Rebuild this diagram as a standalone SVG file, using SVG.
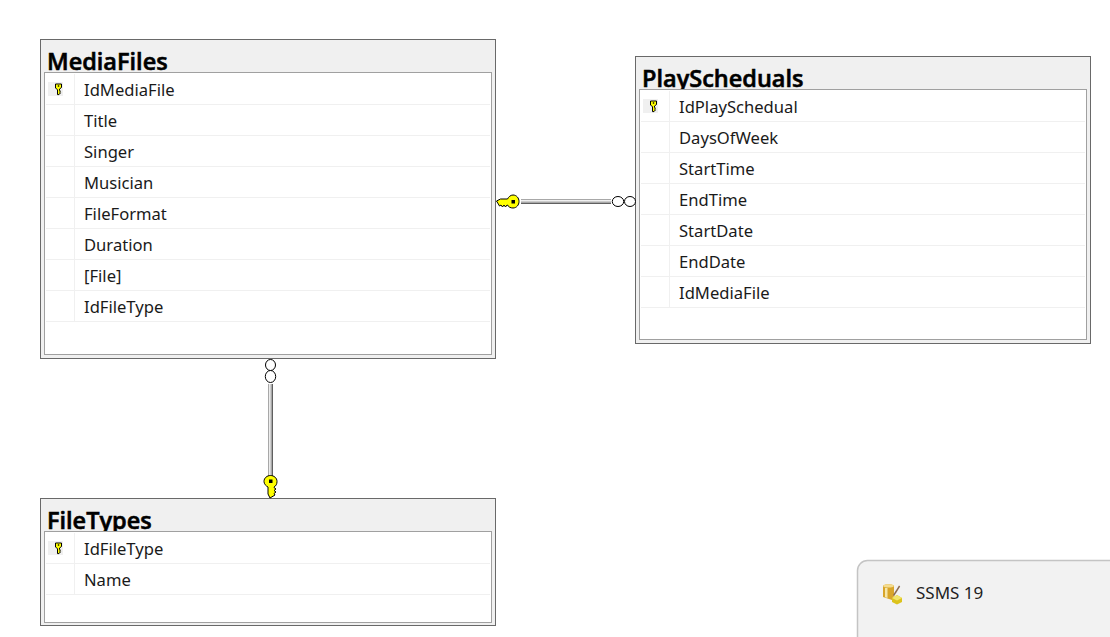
<svg xmlns="http://www.w3.org/2000/svg" width="1110" height="637" viewBox="0 0 1110 637">
<style>
.o{fill:#f0f0f0;stroke:#696969;stroke-width:1}
.i{fill:#fff;stroke:#a0a0a0;stroke-width:1}
.t{font:600 23.5px "Open Sans","Noto Sans",sans-serif;fill:#000;stroke:#000;stroke-width:.6}
.c{font:400 16.6px "Noto Sans","Open Sans",sans-serif;fill:#1a1a1a}
.g{stroke:#f0f0f0;stroke-width:1;fill:none}
.k{fill:#ff0;stroke:#000;stroke-width:1}
.h{fill:#f0f0f0}
.r1{stroke:#a8a8a8;stroke-width:5;fill:none}
.r2{stroke:#f0f0f0;stroke-width:1.500;fill:none}
.r3{stroke:#606060;stroke-width:1;fill:none}
.e{fill:#fff;stroke:#000;stroke-width:1}
</style>
<defs>
<g id="mini"><rect x="-10.500" y="-7" width="15" height="14" class="h"/><path d="M-3-5h6v3.500l-2 1.500v1.500l1 .7-1 .8 1 .8-1.500 1.800h-1.500v-5l-2-1.500z" fill="#ff0" stroke="#000" stroke-width="1"/><rect x="-.7" y="-3.700" width="1.400" height="1.400" fill="#000"/></g>
<g id="bigkey"><path d="M.5-.5L4.500-2.500H11.500C12.500-4.500 14.500-6.500 17-6.500C20.500-6.500 23-3.500 23 0C23 3.500 20.500 6.500 17 6.500C14.500 6.500 12.500 5.500 11.500 3.500H11L9.500 5.500L8 3.500L6.500 5.500L5 3.500L3.500 4.500z" class="k"/><rect x="15.500" y="-1.500" width="3.500" height="3.500" fill="#000"/></g>
</defs>
<rect width="1110" height="637" fill="#fff"/>
<g id="MediaFiles">
<rect class="o" x="40.500" y="39.500" width="455" height="319"/>
<text class="t" x="47" y="70">MediaFiles</text>
<rect class="i" x="44.500" y="72.500" width="447" height="282"/>
<path class="g" d="M46 104.500H490M46 135.500H490M46 166.500H490M46 197.500H490M46 228.500H490M46 259.500H490M46 290.500H490M46 321.500H490M74.500 74V321"/>
<use href="#mini" x="58.500" y="89"/>
<text class="c" x="84" y="96">IdMediaFile</text>
<text class="c" x="84" y="127">Title</text>
<text class="c" x="84" y="158">Singer</text>
<text class="c" x="84" y="189">Musician</text>
<text class="c" x="84" y="220">FileFormat</text>
<text class="c" x="84" y="251">Duration</text>
<text class="c" x="84" y="282">[File]</text>
<text class="c" x="84" y="313">IdFileType</text>
</g>
<g id="PlayScheduals">
<rect class="o" x="635.500" y="56.500" width="455" height="287"/>
<text class="t" x="642" y="87">PlayScheduals</text>
<rect class="i" x="639.500" y="89.500" width="447" height="250"/>
<path class="g" d="M641 121.500H1085M641 152.500H1085M641 183.500H1085M641 214.500H1085M641 245.500H1085M641 276.500H1085M641 307.500H1085M669.500 91V307"/>
<use href="#mini" x="653.500" y="106"/>
<text class="c" x="679" y="113">IdPlaySchedual</text>
<text class="c" x="679" y="144">DaysOfWeek</text>
<text class="c" x="679" y="175">StartTime</text>
<text class="c" x="679" y="206">EndTime</text>
<text class="c" x="679" y="237">StartDate</text>
<text class="c" x="679" y="268">EndDate</text>
<text class="c" x="679" y="299">IdMediaFile</text>
</g>
<g id="FileTypes">
<rect class="o" x="40.500" y="498.500" width="455" height="127"/>
<text class="t" x="47" y="529">FileTypes</text>
<rect class="i" x="44.500" y="531.500" width="447" height="91"/>
<path class="g" d="M46 563.500H490M46 594.500H490M74.500 533V594"/>
<use href="#mini" x="58.500" y="548"/>
<text class="c" x="84" y="555">IdFileType</text>
<text class="c" x="84" y="586">Name</text>
</g>
<g id="connectors">
<path class="r1" d="M521 201.500H611"/><path class="r2" d="M521 200.800H611"/><path class="r3" d="M521 203.500H611"/>
<use href="#bigkey" x="496" y="201.500"/>
<ellipse class="e" cx="618" cy="201.500" rx="5.700" ry="5"/><ellipse class="e" cx="630" cy="201.500" rx="5.500" ry="5"/>
<path class="r1" d="M270.500 384V476"/><path class="r2" d="M269.800 384V476"/><path class="r3" d="M272.500 384V476"/>
<ellipse class="e" cx="270.500" cy="365" rx="5" ry="5.500"/><ellipse class="e" cx="270.500" cy="376.500" rx="5.200" ry="6"/>
<use href="#bigkey" transform="translate(270.500 498.500) rotate(-90)"/>
</g>
<g id="toast">
<rect x="857.500" y="560.500" width="280" height="100" rx="10" fill="#f2f2f2" stroke="#c4c4c4" stroke-width="1.500"/>
<g id="toast-icon">
<path d="M883 586c0-2.500 11-2.500 11 0v10l-2 4-9-3z" fill="#d8a52a"/>
<path d="M883 586c0-2.500 11-2.500 11 0-1 2-10 2-11 0z" fill="#f4dc90"/>
<path d="M885 588h2.500v10l-2.500-.8z" fill="#f6e6a8"/>
<path d="M892 598l5-3 5 3v4l-5 2.500-5-2.500z" fill="#dcc31c"/>
<path d="M892 598l5-3 5 3-5 2.500z" fill="#f2e56a"/>
<path d="M893 595l6-9.500 1.200 1-6 9.500z" fill="#8a6a50"/>
</g>
<text x="916" y="599" font-family="'Noto Sans','Open Sans',sans-serif" font-size="17" fill="#1f1f1f">SSMS 19</text>
</g>
</svg>
